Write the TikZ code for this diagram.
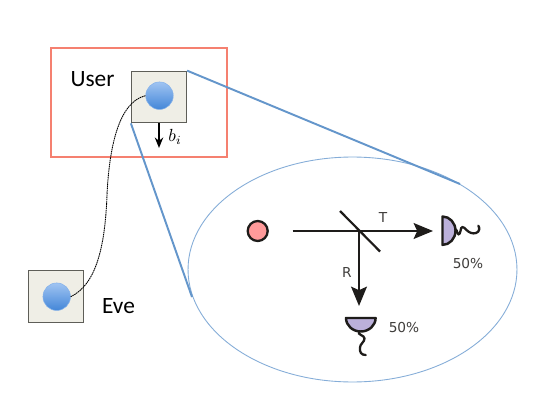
\documentclass[tikz,border=0pt]{standalone}
\usepackage{fontspec}
\setmainfont{Carlito}
\newfontfamily\labelfont{DejaVu Sans}
\usetikzlibrary{arrows.meta,positioning,shapes.geometric}
\definecolor{FrameRed}{HTML}{F58070}
\definecolor{ZoomBlue}{HTML}{6496CB}
\definecolor{RingBlue}{HTML}{85ADD8}
\definecolor{BoxFill}{HTML}{EFEEE6}
\definecolor{BoxLine}{HTML}{5E5E58}
\definecolor{BallTop}{HTML}{A0C4F2}
\definecolor{BallLow}{HTML}{4386D8}
\definecolor{Source}{HTML}{FF9A9A}
\definecolor{Detector}{HTML}{BBB0DA}
\definecolor{Ink}{HTML}{1E1C1A}
\tikzset{
  party/.style={draw=BoxLine,fill=BoxFill,line width=.7pt,minimum width=1.1cm,minimum height=1.03cm,inner sep=0pt},
  ball/.style={circle,draw=BallTop!70!BallLow,line width=.3pt,top color=BallTop,bottom color=BallLow,minimum size=.55cm,inner sep=0pt},
  zoomline/.style={ZoomBlue,line width=1.1pt},
  beam/.style={Ink,line width=1.25pt},
  squiggle/.style={Ink,line width=1.3pt,line cap=round},
  cup/.style={draw=Ink,fill=Detector,line width=1.4pt,line join=round},
  caption/.style={font=\fontsize{13.3}{15}\selectfont,text=black,inner sep=0pt},
  small/.style={font=\labelfont\fontsize{7.8}{9}\selectfont,text=Ink!85,inner sep=0pt}
}
\begin{document}
\begin{tikzpicture}[x=.02cm,y=-.02cm]
\fill[white] (0,0) rectangle (540,405); \useasboundingbox (0,0) rectangle (540,405);
\node[draw=FrameRed,line width=1pt,minimum width=3.52cm,minimum height=2.18cm,inner sep=0pt] (frame) at (139,102.5){};
\node[ellipse,draw=RingBlue,line width=.5pt,minimum width=6.58cm,minimum height=4.5cm,inner sep=0pt] (lens) at (352.5,269.5){};
\node[party] (userbox) at (159,97){};
\node[party] (evebox) at (56,296.5){};
\node[ball] (userball) at (159.5,95.7){};
\node[ball] (eveball) at (56.7,296.7){};
\node[caption] (user) at (92.5,79){User};
\node[caption] (eve) at (118.5,306.5){Eve};
\coordinate (zoomtop) at (460,184); \coordinate (zoomlow) at (192,297);
\draw[zoomline] (userbox.north east)--(zoomtop);
\draw[zoomline] (userbox.south west)--(zoomlow);
\draw[black,line width=.5pt,dash pattern=on .9pt off .35pt] (userball.west) .. controls (118,102) and (109,150) .. (107,195) .. controls (105,250) and (95,285) .. (eveball.east);
\coordinate (bitend) at (159,148);
\draw[black,line width=1.2pt,-{Stealth[length=6pt,width=4.8pt]}] (userbox.south -| bitend)--(bitend);
\node[inner sep=0pt,font=\normalsize] (bit) at (175,137){\(b_i\)};
% inside the zoomed ellipse
\node[circle,draw=Ink,fill=Source,line width=1.3pt,minimum size=.4cm,inner sep=0pt] (source) at (257.7,231){};
\coordinate (beamstart) at (292.5,231); \coordinate (split) at (359,231); \coordinate (tipT) at (433,231); \coordinate (tipR) at (359,306);
\coordinate (mirrorA) at (340,211); \coordinate (mirrorB) at (380,251.5);
\draw[beam] (mirrorA)--(mirrorB);
\draw[beam,-{Stealth[length=11pt,width=9pt,inset=2pt]}] (beamstart)--(tipT);
\draw[beam,-{Stealth[length=11pt,width=9pt,inset=2pt]}] (split)--(tipR);
\node[small] (labelT) at (383,218){T};
\node[small] (labelR) at (347,273){R};
% detectors
\draw[cup] (442.5,216.5) arc[start angle=-90,end angle=90,x radius=13,y radius=14.2]--cycle;
\draw[squiggle] (456.5,230) .. controls (457.5,235) and (459.5,236) .. (460.5,231) .. controls (461,226) and (463,226) .. (466.5,230) .. controls (469.5,233) and (473,234) .. (476,233) .. controls (479.5,232) and (480,228) .. (478.3,225.7);
\draw[cup] (346,318) arc[start angle=180,end angle=0,x radius=14.8,y radius=13.5]--cycle;
\draw[squiggle] (359,331.5) .. controls (357,335) and (364.5,335) .. (364.5,338.5) .. controls (364.5,342) and (360,344) .. (360,347.5) .. controls (359.5,352) and (361,355) .. (365.7,355);
\node[small] (percentT) at (468,264){50\%};
\node[small] (percentR) at (404,328){50\%};
\end{tikzpicture}
\end{document}
